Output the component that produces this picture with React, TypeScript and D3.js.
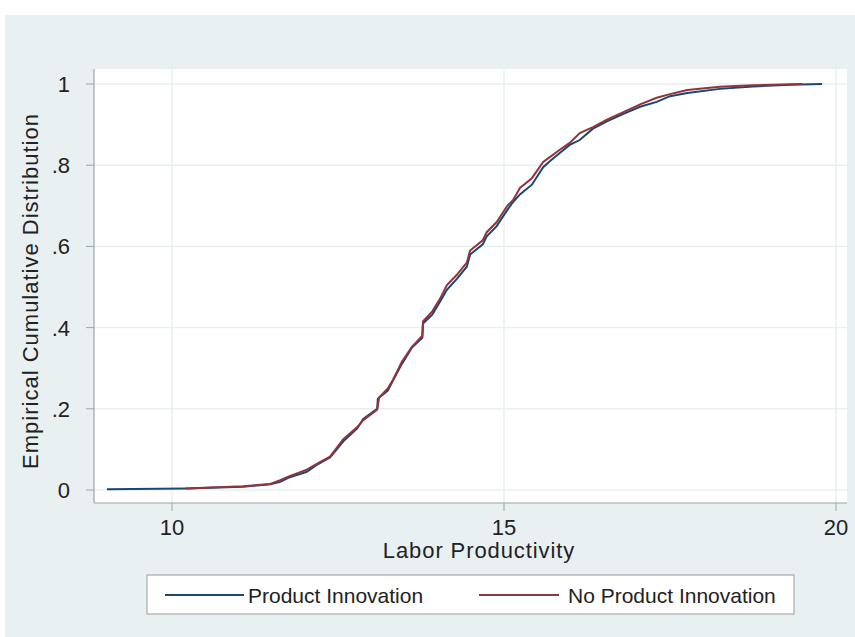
import React from "react";
import * as d3 from "d3";

const W = 855;
const H = 637;

// Product Innovation ECDF points (labor productivity, cumulative share)
const prodX = [9.02, 10.21, 11.07, 11.48, 11.63, 11.75, 12.03, 12.2, 12.38, 12.58, 12.79, 12.88, 13.09, 13.1, 13.25, 13.33, 13.46, 13.61, 13.77, 13.78, 13.92, 14.04, 14.14, 14.29, 14.44, 14.49, 14.68, 14.74, 14.89, 15.05, 15.14, 15.24, 15.42, 15.59, 15.69, 15.84, 15.99, 16.14, 16.34, 16.55, 16.79, 17.05, 17.3, 17.5, 17.76, 18.25, 18.75, 19.31, 19.79];
const prodF = [0.002, 0.004, 0.008, 0.014, 0.02, 0.03, 0.045, 0.064, 0.08, 0.12, 0.152, 0.175, 0.2, 0.225, 0.245, 0.27, 0.31, 0.35, 0.375, 0.41, 0.432, 0.465, 0.493, 0.52, 0.55, 0.58, 0.605, 0.625, 0.65, 0.69, 0.71, 0.728, 0.752, 0.795, 0.81, 0.83, 0.85, 0.862, 0.89, 0.908, 0.926, 0.944, 0.956, 0.97, 0.978, 0.988, 0.994, 0.998, 1.0];

// No Product Innovation ECDF points
const noProdX = [10.21, 11.07, 11.48, 11.63, 11.75, 12.03, 12.2, 12.38, 12.58, 12.79, 12.88, 13.09, 13.12, 13.25, 13.33, 13.46, 13.61, 13.77, 13.78, 13.92, 14.04, 14.14, 14.29, 14.44, 14.49, 14.68, 14.74, 14.89, 15.05, 15.14, 15.24, 15.42, 15.59, 15.69, 15.84, 15.99, 16.14, 16.34, 16.55, 16.79, 17.05, 17.3, 17.5, 17.76, 18.25, 18.75, 19.49];
const noProdF = [0.004, 0.009, 0.015, 0.024, 0.033, 0.05, 0.066, 0.082, 0.125, 0.155, 0.172, 0.198, 0.228, 0.25, 0.272, 0.315, 0.352, 0.38, 0.415, 0.44, 0.472, 0.505, 0.53, 0.56, 0.59, 0.615, 0.635, 0.66, 0.7, 0.715, 0.744, 0.768, 0.808, 0.82, 0.838, 0.855, 0.879, 0.894, 0.912, 0.93, 0.95, 0.966, 0.975, 0.985, 0.993, 0.997, 1.0];

const xTicks = [10, 15, 20];
const yTicks = [0, 0.2, 0.4, 0.6, 0.8, 1];
const yTickLabels = ["0", ".2", ".4", ".6", ".8", "1"];
const seriesNames = ["Product Innovation", "No Product Innovation"];
const seriesColors = ["#1a476f", "#90353b"];

const FONT = "'Liberation Sans', Arial, Helvetica, sans-serif";

export default function App() {
  const plot = { left: 94, right: 847, top: 69, bottom: 503 };
  const x = d3.scaleLinear().domain([10, 20]).range([172, 836]);
  const y = d3.scaleLinear().domain([0, 1]).range([490, 84]);

  const line = d3
    .line<[number, number]>()
    .x((d) => x(d[0]))
    .y((d) => y(d[1]))
    .curve(d3.curveLinear);

  const s1: [number, number][] = prodX.map((v, i) => [v, prodF[i]]);
  const s2: [number, number][] = noProdX.map((v, i) => [v, noProdF[i]]);

  const gridColor = "#e8eff1";
  const axisColor = "#a0a4a6";
  const textColor = "#222";

  return (
    <svg
      width={W}
      height={H}
      style={{ position: "absolute", left: 0, top: 0, background: "#ffffff" }}
      fontFamily={FONT}
    >
      <rect x={5} y={15} width={W - 5} height={H - 15} fill="#e8f0f2" />
      <rect
        x={plot.left}
        y={plot.top}
        width={plot.right - plot.left}
        height={plot.bottom - plot.top}
        fill="#ffffff"
      />
      {/* grid */}
      {yTicks.map((t) => (
        <line
          key={"gy" + t}
          x1={plot.left}
          x2={plot.right}
          y1={y(t)}
          y2={y(t)}
          stroke={gridColor}
          strokeWidth={1.5}
        />
      ))}
      {xTicks.map((t) => (
        <line
          key={"gx" + t}
          x1={x(t)}
          x2={x(t)}
          y1={plot.top}
          y2={plot.bottom}
          stroke={gridColor}
          strokeWidth={1.5}
        />
      ))}
      {/* axes */}
      <line x1={plot.left} x2={plot.left} y1={plot.top} y2={plot.bottom} stroke={axisColor} strokeWidth={1.2} />
      <line x1={plot.left} x2={plot.right} y1={plot.bottom} y2={plot.bottom} stroke={axisColor} strokeWidth={1.2} />
      {yTicks.map((t, i) => (
        <g key={"yt" + t}>
          <line x1={plot.left - 8} x2={plot.left} y1={y(t)} y2={y(t)} stroke={axisColor} strokeWidth={1} />
          <text
            x={70}
            y={y(t) + 8}
            textAnchor="end"
            fontSize={22}
            fill={textColor}
          >
            {yTickLabels[i]}
          </text>
        </g>
      ))}
      {xTicks.map((t) => (
        <g key={"xt" + t}>
          <line x1={x(t)} x2={x(t)} y1={plot.bottom} y2={plot.bottom + 8} stroke={axisColor} strokeWidth={1} />
          <text x={x(t)} y={535} textAnchor="middle" fontSize={22} fill={textColor}>
            {t}
          </text>
        </g>
      ))}
      <text
        x={479}
        y={558}
        textAnchor="middle"
        fontSize={22}
        letterSpacing={0.9}
        fill={textColor}
      >
        Labor Productivity
      </text>
      <text
        transform={`translate(38,291) rotate(-90)`}
        textAnchor="middle"
        fontSize={22}
        letterSpacing={1}
        fill={textColor}
      >
        Empirical Cumulative Distribution
      </text>

      {/* curves */}
      <path d={line(s1) || ""} fill="none" stroke={seriesColors[0]} strokeWidth={2} />
      <path d={line(s2) || ""} fill="none" stroke={seriesColors[1]} strokeWidth={2} />

      {/* legend */}
      <rect x={147} y={575} width={647} height={39} fill="#ffffff" stroke="#a8abad" strokeWidth={1.2} />
      <line x1={165} x2={244} y1={595} y2={595} stroke={seriesColors[0]} strokeWidth={2} />
      <text x={248} y={603} fontSize={21} fill={textColor}>
        {seriesNames[0]}
      </text>
      <line x1={479} x2={559} y1={595} y2={595} stroke={seriesColors[1]} strokeWidth={2} />
      <text x={568} y={603} fontSize={21} fill={textColor}>
        {seriesNames[1]}
      </text>
    </svg>
  );
}
